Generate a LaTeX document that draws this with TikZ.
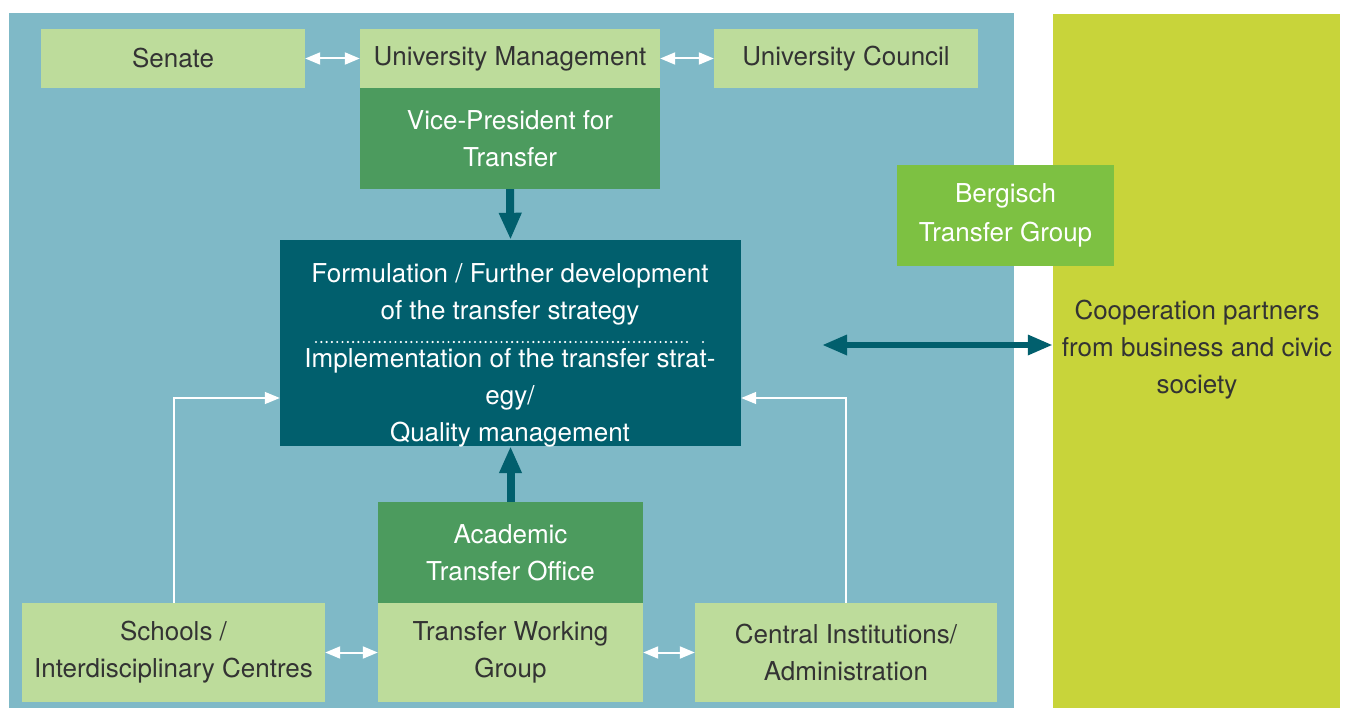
\documentclass[tikz,border=0pt]{standalone}
\usepackage{fontspec}
\setmainfont{TeX Gyre Heros}
\usetikzlibrary{arrows.meta}
\definecolor{bgblue}{HTML}{7FB9C7}
\definecolor{lightg}{HTML}{BDDC9B}
\definecolor{midg}{HTML}{4C9B5E}
\definecolor{teal}{HTML}{015F6D}
\definecolor{bergg}{HTML}{7DC142}
\definecolor{yellowg}{HTML}{C8D43A}
\definecolor{txtdark}{HTML}{333333}
\tikzset{
  box/.style={rectangle, inner sep=0pt, align=center, font=\fontsize{26}{37}\selectfont},
  lbox/.style={box, fill=lightg, text=txtdark},
  gbox/.style={box, fill=midg, text=white},
  wdbl/.style={white, line width=2pt, {Triangle[length=15pt,width=12pt]}-{Triangle[length=15pt,width=12pt]}},
  wsgl/.style={white, line width=1.4pt, -{Triangle[length=15pt,width=12pt]}},
  tarrow/.style={teal, line width=8pt, -{Triangle[length=27pt,width=21pt]}},
  tdbl/.style={teal, line width=6pt, {Triangle[length=25pt,width=19pt]}-{Triangle[length=25pt,width=19pt]}},
}
\begin{document}
\begin{tikzpicture}[x=1pt,y=-1pt]
\useasboundingbox (0,0) rectangle (1346,709);
\fill[white] (0,0) rectangle (1346,709);
\fill[bgblue] (9,13) rectangle (1014,708);
\node[rectangle, fill=yellowg, minimum width=287pt, minimum height=694pt, inner sep=0pt] (coop) at (1196.5,361) {};
\node[box, text=txtdark] (cooptext) at (1197,350) {Cooperation partners\\from business and civic\\society};

\node[lbox, minimum width=264pt, minimum height=59pt] (senate) at (173,58.5) {Senate};
\node[lbox, minimum width=300pt, minimum height=59pt] (um) at (510,58.5) {University Management};
\node[lbox, minimum width=264pt, minimum height=59pt] (uc) at (846,58.5) {University Council};
\node[gbox, minimum width=300pt, minimum height=101pt] (vp) at (510,138.5) {Vice-President for\\Transfer};
\node[box, fill=teal, text=white, minimum width=461pt, minimum height=206pt] (form) at (510.5,343) {};
\node[box, text=white] (f1) at (510,294) {Formulation / Further development\\of the transfer strategy};
\node[box, text=white] (f2) at (510,398) {Implementation of the transfer strat-\\egy/\\Quality management};
\coordinate (d1) at (316,342);
\coordinate (d2) at (692,342);
\coordinate (d3) at (703,342);
\draw[white, line width=2.4pt, line cap=round, dash pattern=on 0pt off 5.3pt] (d1) -- (d2);
\fill[white] (d3) circle (1.2pt);
\node[box, fill=bergg, text=white, minimum width=217pt, minimum height=101pt, font=\fontsize{26}{39}\selectfont] (berg) at (1005.5,215.5) {Bergisch\\Transfer Group};
\node[gbox, minimum width=265pt, minimum height=101pt] (ato) at (510.5,552.5) {Academic\\Transfer Office};
\node[lbox, minimum width=303pt, minimum height=99pt] (schools) at (173.5,652.5) {Schools /\\Interdisciplinary Centres};
\node[lbox, minimum width=265pt, minimum height=99pt] (twg) at (510.5,652.5) {Transfer Working\\Group};
\node[lbox, minimum width=302pt, minimum height=99pt] (central) at (846,652.5) {Central Institutions/\\Administration};

\draw[wdbl] (senate) -- (um);
\draw[wdbl] (um) -- (uc);
\draw[wdbl] (schools) -- (twg);
\draw[wdbl] (twg) -- (central);
\draw[tarrow] (vp.south) -- (form.north);
\draw[tarrow] (ato.north) -- (form.south);
\coordinate (dl) at (822,345);
\draw[tdbl] (dl) -- (coop.west |- dl);
\draw[wsgl] ([xshift=0.5pt]schools.north) |- (form.west |- 0,398);
\draw[wsgl] (central.north) |- (form.east |- 0,398);
\end{tikzpicture}
\end{document}
